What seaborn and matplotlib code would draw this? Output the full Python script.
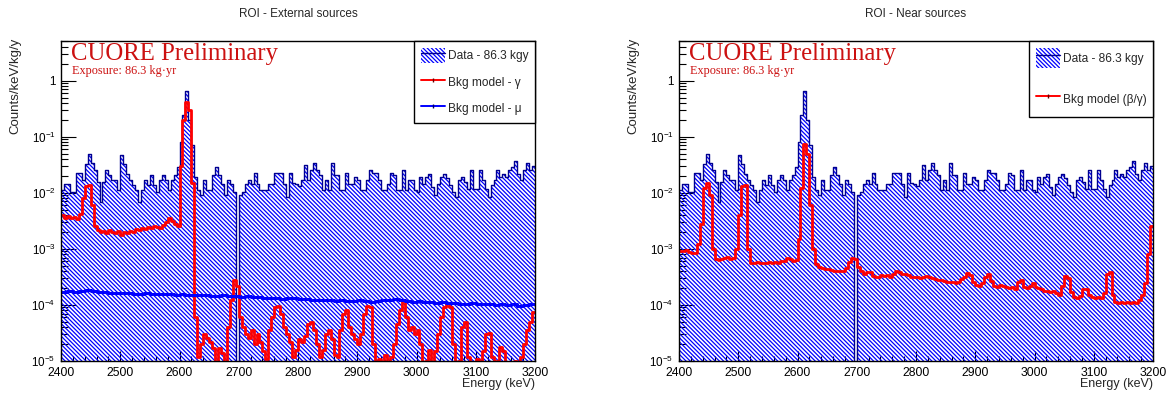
import numpy as np
import pandas as pd
import matplotlib
matplotlib.use("Agg")
import matplotlib.pyplot as plt
import seaborn as sns
from matplotlib.patches import Patch
from matplotlib.lines import Line2D
from matplotlib.ticker import LogLocator, NullFormatter, FuncFormatter, MultipleLocator

# ---------------------------------------------------------------- data
# energy binning of the spectra (keV)
e_lo, e_hi = 2400, 3200
edges_5 = np.arange(e_lo, e_hi + 5, 5)      # 160 bins of 5 keV
edges_10 = np.arange(e_lo, e_hi + 10, 10)   # 80 bins of 10 keV

# measured spectrum, counts/keV/kg/y, 5 keV bins
data_rate = [
    0.0114, 0.0145, 0.0145, 0.0103, 0.0103, 0.0225, 0.0225, 0.0166, 0.033, 0.0484,
    0.0345, 0.0258, 0.0155, 0.0068, 0.0155, 0.0258, 0.0205, 0.0171, 0.0171, 0.0114,
    0.047, 0.033, 0.0219, 0.0171, 0.0136, 0.011, 0.0068, 0.011, 0.0171, 0.0136,
    0.0205, 0.0136, 0.0103, 0.0171, 0.0205, 0.0171, 0.011, 0.0171, 0.0205, 0.029,
    0.08, 0.24, 0.65, 0.2, 0.07, 0.019, 0.0114, 0.009, 0.0166, 0.0114,
    0.0114, 0.0205, 0.029, 0.0205, 0.0145, 0.009, 0.0166, 0.0145, 0.0103, 0.0,
    0.009, 0.0103, 0.0145, 0.0166, 0.0145, 0.0225, 0.0145, 0.0114, 0.0114, 0.011,
    0.0145, 0.0145, 0.0225, 0.0225, 0.0225, 0.0145, 0.0084, 0.0225, 0.015, 0.0145,
    0.013, 0.0171, 0.0317, 0.0171, 0.025, 0.0345, 0.025, 0.0205, 0.0114, 0.0171,
    0.0114, 0.0345, 0.0205, 0.0205, 0.0114, 0.011, 0.0225, 0.0145, 0.0145, 0.0195,
    0.0166, 0.0114, 0.0114, 0.0171, 0.025, 0.0225, 0.0225, 0.0166, 0.0114, 0.0114,
    0.0145, 0.0225, 0.0205, 0.0114, 0.0114, 0.0258, 0.0114, 0.0171, 0.0171, 0.0114,
    0.0103, 0.0191, 0.0145, 0.0191, 0.0219, 0.0126, 0.009, 0.0145, 0.0191, 0.0219,
    0.0184, 0.0136, 0.0103, 0.0084, 0.0166, 0.0191, 0.0155, 0.0118, 0.025, 0.0118,
    0.0118, 0.025, 0.0166, 0.0118, 0.0084, 0.0136, 0.0166, 0.025, 0.0191, 0.0219,
    0.0191, 0.025, 0.0288, 0.0368, 0.0219, 0.0166, 0.025, 0.0345, 0.025, 0.03,
]

# background model, external gamma sources, 5 keV bins
model_gamma = [
    4.0e-3, 3.6e-3, 3.8e-3, 3.5e-3, 3.7e-3, 3.4e-3, 4.2e-3, 8.0e-3, 1.3e-2, 1.4e-2,
    6.0e-3, 2.6e-3, 2.2e-3, 2.0e-3, 2.1e-3, 1.9e-3, 2.2e-3, 2.0e-3, 1.9e-3, 2.1e-3,
    1.8e-3, 2.0e-3, 1.9e-3, 2.1e-3, 2.0e-3, 2.3e-3, 2.2e-3, 2.4e-3, 2.3e-3, 2.5e-3,
    2.4e-3, 2.6e-3, 2.5e-3, 2.4e-3, 2.7e-3, 3.0e-3, 3.6e-3, 3.2e-3, 2.8e-3, 2.6e-3,
    3.0e-2, 2.0e-1, 4.2e-1, 3.0e-1, 1.5e-2, 6.0e-5, 1.2e-5, 2.0e-5, 3.0e-5, 2.6e-5,
    2.2e-5, 1.7e-5, 8.0e-6, 1.7e-5, 1.4e-5, 8.0e-6, 4.0e-5, 1.2e-4, 2.8e-4, 2.2e-4,
    6.0e-5, 4.0e-5, 3.0e-5, 2.6e-5, 3.5e-5, 2.0e-5, 3.0e-5, 2.2e-5, 1.5e-5, 1.1e-5,
    3.5e-5, 6.0e-5, 9.0e-5, 9.5e-5, 7.0e-5, 4.0e-5, 3.0e-5, 2.2e-5, 1.2e-5, 1.6e-5,
    2.5e-5, 2.2e-5, 2.8e-5, 4.5e-5, 5.0e-5, 3.5e-5, 2.0e-5, 1.2e-5, 1.6e-5, 3.0e-5,
    3.5e-5, 2.5e-5, 1.3e-5, 1.2e-5, 3.5e-5, 7.0e-5, 8.0e-5, 4.0e-5, 3.0e-5, 2.5e-5,
    2.0e-5, 3.0e-5, 7.0e-5, 9.5e-5, 9.0e-5, 2.0e-5, 8.0e-6, 1.1e-5, 8.0e-6, 1.3e-5,
    8.0e-6, 1.2e-5, 2.0e-5, 4.5e-5, 8.0e-5, 1.2e-4, 6.0e-5, 3.5e-5, 4.0e-5, 3.0e-5,
    3.5e-5, 2.0e-5, 8.0e-6, 1.0e-5, 1.6e-5, 8.0e-6, 1.5e-5, 3.0e-5, 6.0e-5, 9.0e-5,
    1.1e-4, 9.0e-5, 2.0e-5, 8.0e-6, 1.0e-5, 4.0e-5, 5.0e-5, 1.2e-5, 8.0e-6, 8.0e-6,
    1.1e-5, 8.0e-6, 1.5e-5, 3.0e-5, 3.2e-5, 1.2e-5, 8.0e-6, 1.0e-5, 1.8e-5, 1.5e-5,
    8.0e-6, 8.0e-6, 8.0e-6, 1.0e-5, 8.0e-6, 1.2e-5, 2.0e-5, 3.5e-5, 5.0e-5, 7.5e-5,
]

# background model, muons, 10 keV bins (units of 1e-4 counts/keV/kg/y)
model_mu_e4 = [
    1.72, 1.74, 1.70, 1.78, 1.82, 1.75, 1.70, 1.68,
    1.66, 1.62, 1.64, 1.60, 1.58, 1.55, 1.60, 1.57,
    1.58, 1.55, 1.56, 1.52, 1.55, 1.50, 1.53, 1.48,
    1.50, 1.47, 1.45, 1.50, 1.42, 1.46, 1.40, 1.42,
    1.38, 1.40, 1.35, 1.32, 1.35, 1.30, 1.33, 1.32,
    1.30, 1.28, 1.25, 1.22, 1.25, 1.20, 1.18, 1.20,
    1.18, 1.16, 1.20, 1.18, 1.15, 1.18, 1.22, 1.20,
    1.28, 1.24, 1.18, 1.15, 1.16, 1.12, 1.14, 1.10,
    1.12, 1.08, 1.10, 1.06, 1.04, 1.07, 1.05, 1.02,
    1.03, 1.00, 1.04, 0.98, 1.02, 0.97, 1.00, 1.04,
]

# background model, near sources (beta/gamma), 5 keV bins
model_near = [
    9.2e-4, 9.0e-4, 9.4e-4, 8.8e-4, 8.4e-4, 8.6e-4, 1.2e-3, 2.8e-3, 1.2e-2, 1.5e-2,
    9.0e-3, 1.0e-3, 6.5e-4, 6.3e-4, 6.6e-4, 6.8e-4, 7.2e-4, 6.6e-4, 7.0e-4, 1.0e-3,
    4.0e-3, 1.3e-2, 1.4e-2, 1.0e-3, 5.6e-4, 5.5e-4, 5.8e-4, 5.6e-4, 5.7e-4, 5.5e-4,
    5.8e-4, 5.6e-4, 5.9e-4, 5.7e-4, 6.0e-4, 6.2e-4, 6.8e-4, 6.5e-4, 6.0e-4, 6.3e-4,
    1.5e-3, 1.2e-2, 7.5e-2, 5.0e-2, 6.0e-3, 1.0e-3, 5.4e-4, 4.8e-4, 4.6e-4, 4.4e-4,
    4.3e-4, 4.2e-4, 4.1e-4, 4.0e-4, 4.0e-4, 4.1e-4, 4.6e-4, 5.8e-4, 6.8e-4, 6.5e-4,
    4.8e-4, 4.0e-4, 3.6e-4, 3.8e-4, 3.9e-4, 3.3e-4, 3.1e-4, 3.2e-4, 3.4e-4, 3.3e-4,
    3.4e-4, 3.2e-4, 3.5e-4, 4.1e-4, 3.9e-4, 3.5e-4, 3.6e-4, 3.4e-4, 3.2e-4, 3.1e-4,
    3.2e-4, 3.0e-4, 3.1e-4, 3.3e-4, 3.2e-4, 3.0e-4, 2.9e-4, 2.8e-4, 2.8e-4, 2.7e-4,
    2.6e-4, 2.6e-4, 2.6e-4, 2.5e-4, 2.6e-4, 2.9e-4, 3.2e-4, 3.7e-4, 3.4e-4, 2.6e-4,
    2.3e-4, 2.2e-4, 2.5e-4, 3.2e-4, 3.5e-4, 2.7e-4, 2.2e-4, 2.1e-4, 2.3e-4, 2.2e-4,
    2.1e-4, 2.0e-4, 2.1e-4, 1.95e-4, 2.6e-4, 2.8e-4, 2.1e-4, 2.0e-4, 2.2e-4, 2.5e-4,
    2.1e-4, 2.0e-4, 1.9e-4, 1.8e-4, 1.75e-4, 1.7e-4, 1.75e-4, 1.6e-4, 1.5e-4, 2.2e-4,
    3.3e-4, 3.0e-4, 1.7e-4, 1.4e-4, 1.35e-4, 1.45e-4, 1.9e-4, 1.9e-4, 1.5e-4, 1.4e-4,
    1.35e-4, 1.4e-4, 1.35e-4, 1.6e-4, 3.5e-4, 3.8e-4, 1.5e-4, 1.15e-4, 1.1e-4, 1.12e-4,
    1.1e-4, 1.15e-4, 1.1e-4, 1.12e-4, 1.1e-4, 1.2e-4, 1.5e-4, 2.5e-4, 8.0e-4, 2.6e-3,
]

titles = ["ROI - External sources", "ROI - Near sources"]
data_label = "Data - 86.3 kgy"
x_ticks = [2400, 2500, 2600, 2700, 2800, 2900, 3000, 3100, 3200]

# ---------------------------------------------------------------- style
sns.set_style("ticks")
plt.rcParams.update({
    "font.family": ["Liberation Sans", "DejaVu Sans"],
    "mathtext.fontset": "custom",
    "mathtext.rm": "Liberation Sans",
    "mathtext.it": "Liberation Sans:italic",
    "mathtext.bf": "Liberation Sans:bold",
    "hatch.linewidth": 0.9,
    "axes.linewidth": 1.0,
})

W, H = 1173, 396
HATCH = "\\" * 8
HATCH_BLUE = "#0000ff"
NAVY = "#000090"
RED = "#ff0000"
MU_BLUE = "#0000ff"
TXT_RED = "#cc1111"

fig = plt.figure(figsize=(W / 100, H / 100), dpi=100)
fig.patch.set_facecolor("white")

ax_left_px = [61, 679]
ax_w_px, ax_top_px, ax_bot_px = 474, 41, 361
axes = []
for lp in ax_left_px:
    axes.append(fig.add_axes([lp / W, (H - ax_bot_px) / H, ax_w_px / W,
                              (ax_bot_px - ax_top_px) / H]))

centers_5 = (edges_5[:-1] + edges_5[1:]) / 2
spec = pd.DataFrame({"energy": centers_5, "rate": data_rate})
bin_list = edges_5.tolist()


def step_frame(edges, values):
    """Edges plus the last value repeated, for a steps-post line."""
    vals = list(values) + [values[-1]]
    return pd.DataFrame({"energy": edges, "rate": vals})


def draw_data(ax):
    sns.histplot(data=spec, x="energy", weights="rate", bins=bin_list,
                 element="step", fill=True, color=HATCH_BLUE, facecolor="none",
                 edgecolor=HATCH_BLUE, linewidth=0, hatch=HATCH, ax=ax)
    sns.histplot(data=spec, x="energy", weights="rate", bins=bin_list,
                 element="step", fill=False, color=NAVY, linewidth=1.0, ax=ax)


def style_axes(ax):
    ax.set_yscale("log")
    ax.set_xlim(e_lo, e_hi)
    ax.set_ylim(1e-5, 5.1)
    ax.set_xlabel("")
    ax.set_ylabel("")
    ax.set_xticks(x_ticks)
    ax.xaxis.set_minor_locator(MultipleLocator(20))
    ax.yaxis.set_major_locator(LogLocator(base=10, numticks=20))
    ax.yaxis.set_minor_locator(LogLocator(base=10, subs=np.arange(2, 10), numticks=20))
    ax.yaxis.set_minor_formatter(NullFormatter())

    def ylab(v, pos):
        e = int(round(np.log10(v)))
        return "1" if e == 0 else rf"$10^{{{e}}}$"

    ax.yaxis.set_major_formatter(FuncFormatter(ylab))
    ax.tick_params(axis="both", which="both", direction="in",
                   top=False, right=False, colors="black")
    ax.tick_params(axis="y", which="major", length=10.8, width=0.8, pad=4,
                   labelsize=8.4)
    ax.tick_params(axis="y", which="minor", length=5, width=0.8)
    ax.tick_params(axis="x", which="major", length=7.2, width=0.8, pad=4.5,
                   labelsize=8.8)
    ax.tick_params(axis="x", which="minor", length=3.6, width=0.8)
    for s in ax.spines.values():
        s.set_visible(True)
        s.set_color("black")
        s.set_linewidth(1.0)
    ax.set_facecolor("white")


# left panel: external sources
axL, axR = axes
draw_data(axL)
sns.lineplot(data=step_frame(edges_5, model_gamma), x="energy", y="rate",
             drawstyle="steps-post", color=RED, linewidth=2.0, ax=axL)
sns.lineplot(data=step_frame(edges_10, [v * 1e-4 for v in model_mu_e4]),
             x="energy", y="rate", drawstyle="steps-post", color=MU_BLUE,
             linewidth=2.2, ax=axL)

# right panel: near sources
draw_data(axR)
sns.lineplot(data=step_frame(edges_5, model_near), x="energy", y="rate",
             drawstyle="steps-post", color=RED, linewidth=2.0, ax=axR)

for ax in axes:
    style_axes(ax)

# legends
data_handle = (Patch(facecolor="white", edgecolor=HATCH_BLUE, hatch=HATCH, linewidth=0),
               Line2D([], [], color=NAVY, linewidth=1.0))
red_handle = Line2D([], [], color=RED, linewidth=1.4, marker="|", markersize=3,
                    markeredgecolor="#660000")
mu_handle = Line2D([], [], color=MU_BLUE, linewidth=1.4, marker="|", markersize=3,
                   markeredgecolor="#000066")

leg_common = dict(loc="upper right", bbox_to_anchor=(1.0, 1.0), borderaxespad=0,
                  fontsize=8.6, frameon=True, fancybox=False, framealpha=1,
                  edgecolor="black", handlelength=2.0, handletextpad=0.25)
legL = axL.legend([data_handle, red_handle, mu_handle],
                  [data_label, "Bkg model - \u03b3", "Bkg model - \u03bc"],
                  handleheight=1.65, labelspacing=0.9, borderpad=0.55,
                  **leg_common)
legR = axR.legend([data_handle, red_handle],
                  [data_label, "Bkg model (\u03b2/\u03b3)"],
                  handleheight=2.3, labelspacing=1.75, borderpad=0.55,
                  **leg_common)
for leg in (legL, legR):
    leg.get_frame().set_linewidth(1.0)

# texts
for lp, title in zip(ax_left_px, titles):
    cx = (lp + ax_w_px / 2) / W
    fig.text(cx, 1 - 14 / H, title, ha="center", va="center", fontsize=8.5)
    fig.text((lp + 10) / W, 1 - 60 / H, "CUORE Preliminary", ha="left",
             va="baseline", fontsize=17.8, color=TXT_RED,
             family=["Liberation Serif", "DejaVu Serif"])
    fig.text((lp + 11) / W, 1 - 74 / H, "Exposure: 86.3 kg\u00b7yr", ha="left",
             va="baseline", fontsize=8.8, color=TXT_RED,
             family=["Liberation Serif", "DejaVu Serif"])
    fig.text((lp - 46) / W, 1 - 38 / H, "Counts/keV/kg/y", rotation=90,
             ha="center", va="top", fontsize=9.5)
    fig.text((lp + ax_w_px) / W, 1 - 384 / H, "Energy (keV)", ha="right",
             va="center", fontsize=9)

fig.savefig("out.png", dpi=100, facecolor="white")
